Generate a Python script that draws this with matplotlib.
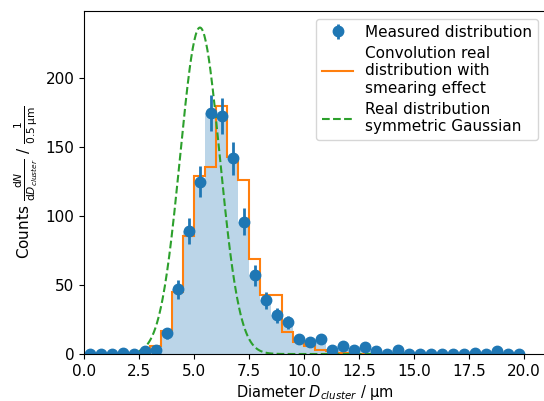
import numpy as np
import matplotlib
matplotlib.use("Agg")
import matplotlib.pyplot as plt

# Bin edges (0.5 um bins from 0 to 20 um)
bin_width = 0.5
edges = np.arange(0, 20.0 + bin_width, bin_width)
centers = edges[:-1] + bin_width / 2

# Measured counts per bin
measured = [0, 0, 0, 1, 0, 2, 3, 15, 47, 89,
            125, 175, 173, 142, 96, 57, 39, 28, 23, 11,
            9, 11, 3, 6, 3, 5, 2, 0, 3, 0,
            0, 0, 0, 0, 0, 1, 0, 2, 0, 0]

# Convolution of real distribution with smearing effect (step values per bin)
convolution = [0, 0, 0, 0, 0, 1, 6, 17, 45, 86,
               129, 136, 180, 143, 126, 69, 43, 43, 16, 9,
               6, 3, 2, 1, 0, 0, 0, 0, 0, 0,
               0, 0, 0, 0, 0, 0, 0, 0, 0, 0]

# Real distribution: symmetric Gaussian parameters
gauss_amplitude = 237.0
gauss_mean = 5.27
gauss_sigma = 0.9

measured = np.array(measured, dtype=float)
convolution = np.array(convolution, dtype=float)
xg = np.linspace(0, 20, 600)
yg = gauss_amplitude * np.exp(-0.5 * ((xg - gauss_mean) / gauss_sigma) ** 2)

fig = plt.figure(figsize=(5.44, 4.01), dpi=100)
ax = fig.add_axes([84 / 544, 47 / 401, 462 / 544, 343 / 401])

ax.stairs(measured, edges, fill=True, color="C0", alpha=0.3, linewidth=0)
ax.stairs(convolution, edges, color="C1", linewidth=1.5,
          label="Convolution real\ndistribution with\nsmearing effect")
ax.plot(xg, yg, "--", color="C2", linewidth=1.5,
        label="Real distribution\nsymmetric Gaussian")
ax.errorbar(centers, measured, yerr=np.sqrt(measured), fmt="o", color="C0",
            markersize=7.5, elinewidth=2, label="Measured distribution")

ax.set_xlim(0, 21)
ax.set_ylim(0, 249)
ax.set_xticks([0, 2.5, 5, 7.5, 10, 12.5, 15, 17.5, 20])
ax.set_xticklabels(["0.0", "2.5", "5.0", "7.5", "10.0", "12.5", "15.0", "17.5", "20.0"])
ax.set_yticks([0, 50, 100, 150, 200])
ax.tick_params(labelsize=11)

ax.set_xlabel(r"Diameter $D_{cluster}$ / µm", fontsize=10.5, labelpad=3)
ax.set_ylabel(r"Counts $\frac{\mathrm{d}N}{\mathrm{d}D_{cluster}}$ / $\frac{1}{0.5\,\mathrm{µm}}$",
              fontsize=11)

handles, labels = ax.get_legend_handles_labels()
order = [2, 0, 1]
ax.legend([handles[i] for i in order], [labels[i] for i in order],
          loc="upper right", fontsize=11, labelspacing=0.4)

fig.savefig("out.png", dpi=100)
